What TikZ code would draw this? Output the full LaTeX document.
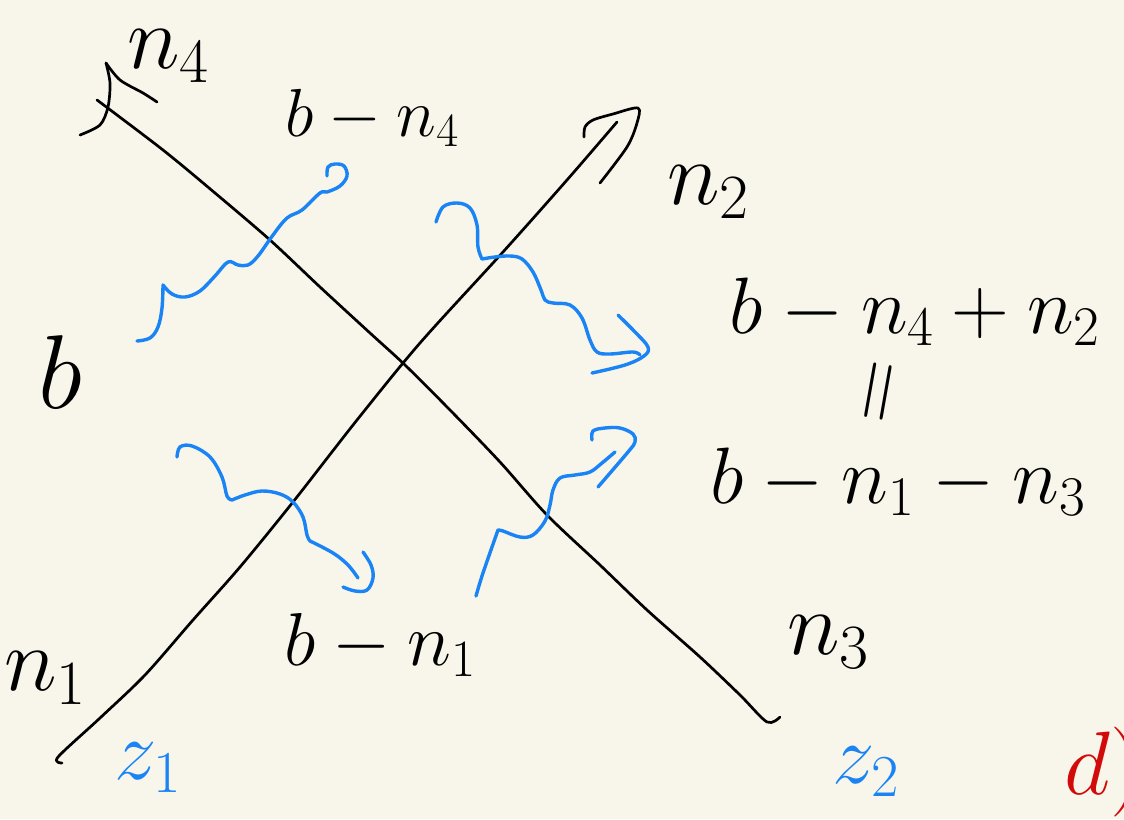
\RequirePackage{fix-cm}
\documentclass[tikz,border=0pt]{standalone}
\usepackage{amsmath}
\definecolor{pbpaper}{HTML}{F8F6EB}
\definecolor{pbblue}{HTML}{1A84F5}
\definecolor{pbred}{HTML}{D20A0A}
\usetikzlibrary{positioning}
\newcommand{\hw}[1]{\fontsize{#1}{#1}\selectfont}

\begin{document}
\begin{tikzpicture}[x=1pt,y=-1pt,
  leg/.style={black,line width=2.7pt,line cap=round,line join=round},
  wav/.style={pbblue,line width=3.4pt,line cap=round,line join=round},
  lbl/.style={inner sep=0pt,font=\hw{90}},
  eqn/.style={inner sep=0pt,font=\hw{80}},
  zlb/.style={inner sep=0pt,font=\hw{85},text=pbblue}]
  \useasboundingbox (0,0) rectangle (1124,819);
  \fill[pbpaper] (0,0) rectangle (1124,819);
  \clip (0,0) rectangle (1124,819);
  % legs
  \coordinate (za) at (62,763);
  \coordinate (zb) at (617,122);
  \coordinate (ya) at (97,100);
  \coordinate (yb) at (780,717);
  \draw[leg] plot[smooth,tension=.5] coordinates {(za) (58,757) (100,718) (145,675) (193,620)
    (240,567) (293,502) (357,420) (420,343) (503,252) (567,180) (zb)};
  \draw[leg] plot[smooth,tension=.5] coordinates {(584,137) (585,127) (593,120) (613,114) (638,108)
    (637,123) (627,147) (600,183)};
  \draw[leg] plot[smooth,tension=.5] coordinates {(ya) (163,150) (215,193) (270,240) (320,287)
    (370,333) (405,365) (450,410) (500,462) (547,515) (600,565) (647,610) (700,657) (740,695)
    (767,722) (yb)};
  \draw[leg] plot[smooth,tension=.5] coordinates {(80,135) (100,125) (108,107) (110,83) (106,63)};
  \draw[leg] plot[smooth,tension=.5] coordinates {(106,63) (120,80) (143,93) (157,102)};
  % photons
  \coordinate (w1a) at (137,341);
  \coordinate (w1b) at (327,176);
  \draw[wav] plot[smooth,tension=.6] coordinates {(w1a) (150,338) (158,327) (162,308) (163,285)}
    -- plot[smooth,tension=.6] coordinates {(163,285) (172,294) (185,297) (200,291) (215,276)
    (228,262) (238,265) (248,265) (258,256) (273,235) (287,218) (302,210) (320,193) (327,192)
    (340,186) (347,176) (344,166) (335,164) (328,167) (w1b)};
  \coordinate (w2a) at (436,222);
  \coordinate (w2b) at (640,355);
  \draw[wav] plot[smooth,tension=.6] coordinates {(w2a) (443,207) (457,203) (470,208) (477,225)
    (478,247) (482,259)} -- plot[smooth,tension=.6] coordinates {(482,259) (495,257) (510,256)
    (522,259) (533,272) (541,290) (545,300) (553,303) (570,305) (582,318) (590,340) (597,352)
    (610,354) (633,352) (w2b)};
  \draw[wav] plot[smooth,tension=.6] coordinates {(618,315) (635,332) (648,347) (644,356) (625,365)
    (592,373)};
  \coordinate (w3a) at (177,457);
  \coordinate (w3b) at (358,578);
  \draw[wav] plot[smooth,tension=.6] coordinates {(w3a) (180,447) (192,446) (210,457) (222,477)
    (227,496) (232,500)} -- plot[smooth,tension=.6] coordinates {(232,500) (245,495) (262,491)
    (280,494) (293,502) (303,517) (307,535) (310,541)} -- plot[smooth,tension=.6] coordinates
    {(310,541) (333,553) (348,565) (w3b)};
  \draw[wav] plot[smooth,tension=.6] coordinates {(363,552) (371,565) (373,578) (367,590) (355,591)
    (343,587)};
  \coordinate (w4a) at (476,596);
  \coordinate (w4b) at (615,452);
  \draw[wav] plot[smooth,tension=.6] coordinates {(w4a) (483,573) (498,530)} -- plot[smooth,tension=.6]
    coordinates {(498,530) (503,531) (520,537) (533,535) (545,521) (550,505) (553,490) (560,478)
    (575,475) (590,472) (602,463) (w4b)};
  \draw[wav] plot[smooth,tension=.6] coordinates {(592,440) (593,431) (605,428) (620,428) (633,434)
    (635,442) (628,452) (598,487)};
  % labels
  \node[lbl] (n4) at (168,56) {$n_4$};
  \node[lbl] (n2) at (708,192) {$n_2$};
  \node[lbl] (n3) at (828,642) {$n_3$};
  \node[lbl] (n1) at (45,678) {$n_1$};
  \node[lbl,font=\hw{105}] (b) at (60,372) {$b$};
  \node[eqn,font=\hw{68}] (bn4) at (372,118) {$b-n_4$};
  \node[eqn,font=\hw{75}] (bn1) at (380,645) {$b-n_1$};
  \node[eqn] (top) at (915,312) {$b-n_4+n_2$};
  \node[eqn,font=\hw{88},rotate=80] (eq) at (885,393) {$=$};
  \node[eqn] (bot) at (898,482) {$b-n_1-n_3$};
  \node[zlb] (z1) at (148,768) {$z_1$};
  \node[zlb] (z2) at (866,772) {$z_2$};
  \node[lbl,text=pbred,anchor=west] (d) at (1064,772) {$d)$};
\end{tikzpicture}
\end{document}
